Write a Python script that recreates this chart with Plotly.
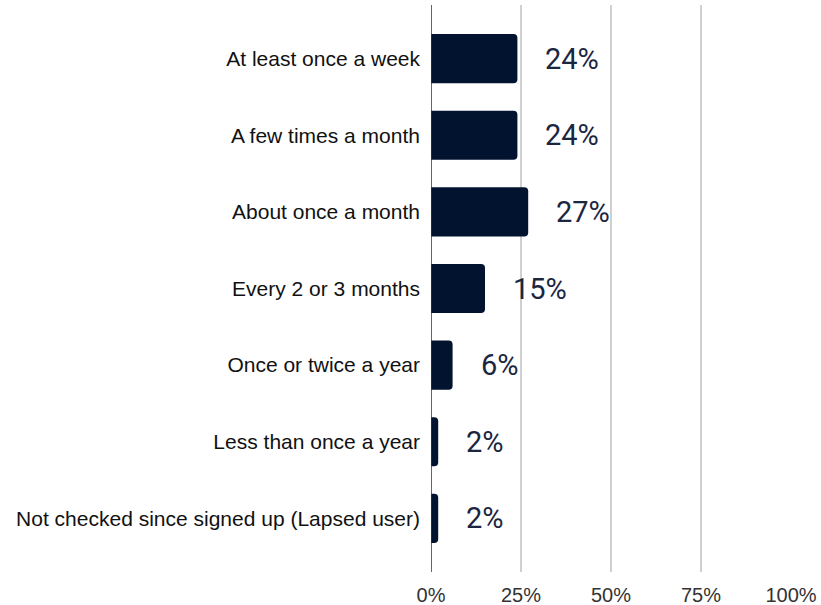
import plotly.graph_objects as go

# Survey: how often respondents check
categories = [
    "At least once a week",
    "A few times a month",
    "About once a month",
    "Every 2 or 3 months",
    "Once or twice a year",
    "Less than once a year",
    "Not checked since signed up (Lapsed user)",
]
shares = [24, 24, 27, 15, 6, 2, 2]
tick_values = [0, 25, 50, 75, 100]
tick_labels = ["0%", "25%", "50%", "75%", "100%"]

bar_color = "#02132f"
label_color = "#1b2640"
base_font = "Liberation Sans, Arial, sans-serif"

fig = go.Figure(
    go.Bar(
        x=shares,
        y=categories,
        orientation="h",
        marker=dict(color=bar_color, line=dict(width=0)),
        width=0.64,
        hoverinfo="skip",
    )
)

# Value labels placed to the right of each bar
for cat, val in zip(categories, shares):
    fig.add_annotation(
        x=val,
        y=cat,
        text=f"{val}%",
        showarrow=False,
        xanchor="left",
        xshift=26,
        font=dict(family="Roboto", size=29, color=label_color),
    )

fig.update_layout(
    width=821,
    height=605,
    margin=dict(l=431, r=30, t=5, b=33),
    paper_bgcolor="white",
    plot_bgcolor="white",
    showlegend=False,
    barcornerradius=4,
    xaxis=dict(
        range=[0, 100],
        tickvals=tick_values,
        ticktext=tick_labels,
        showgrid=True,
        gridcolor="#d0d0d0",
        gridwidth=1.5,
        zeroline=False,
        showline=False,
        ticks="",
        ticklabelstandoff=9,
        automargin=False,
        tickfont=dict(family=base_font, size=20, color="#333333"),
        fixedrange=True,
    ),
    yaxis=dict(
        categoryorder="array",
        categoryarray=categories,
        autorange=False,
        range=[6.7, -0.7],
        showgrid=False,
        zeroline=False,
        showline=False,
        ticks="",
        ticklabelstandoff=10,
        automargin=False,
        tickfont=dict(family=base_font, size=21, color="#111111"),
        fixedrange=True,
    ),
)

# Baseline axis line at 0%
fig.add_shape(
    type="line",
    xref="x", yref="paper",
    x0=0, x1=0, y0=0, y1=1,
    line=dict(color="#333333", width=1.5),
)

fig.write_html("out.html")
